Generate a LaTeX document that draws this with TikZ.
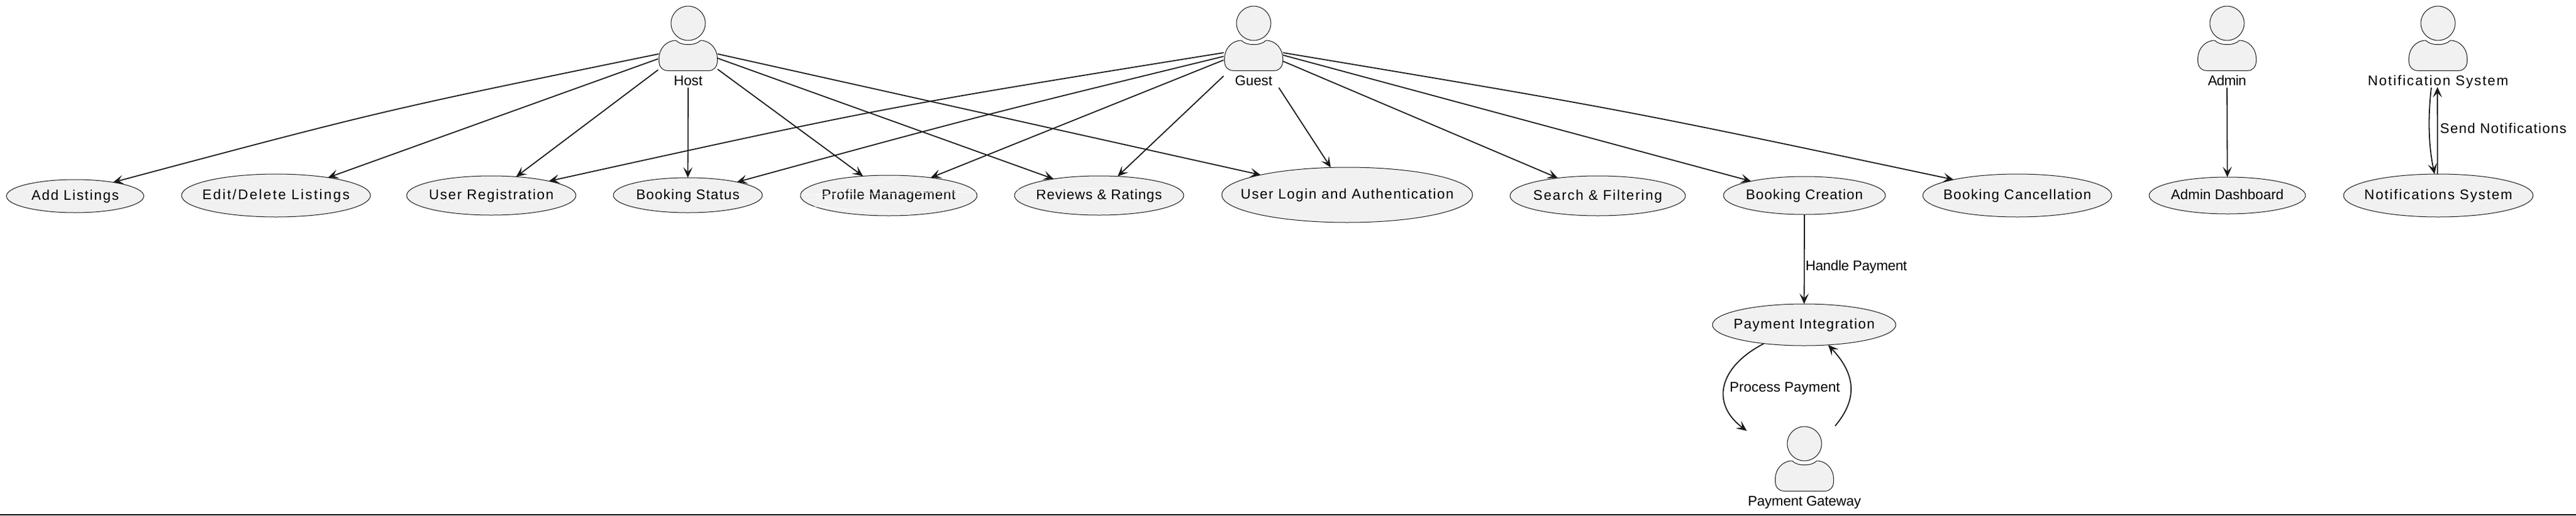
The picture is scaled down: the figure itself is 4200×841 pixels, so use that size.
\documentclass[tikz,border=0pt]{standalone}
\usepackage{fontspec}
\setmainfont{Liberation Sans}
\usetikzlibrary{arrows.meta,shapes.geometric}
\definecolor{ink}{HTML}{181818}
\definecolor{fillgrey}{HTML}{F1F1F1}
\ExplSyntaxOn
\cs_new_eq:NN \mystrcount \str_count:n
\ExplSyntaxOff
% text set to an exact width (px) by tracking; zero-width box so that it does not size the ellipse
\newcommand\fitw[2]{\makebox[0pt][c]{\setbox0=\hbox{#2}%
  \edef\lsval{\fpeval{round((((#1)*0.5pt-\the\wd0)/\mystrcount{#2})/11.4*100,3)}}%
  \edef\lscmd{\noexpand\addfontfeature{LetterSpace=\lsval}}\lscmd #2}}
\tikzset{
  txt/.style={font=\fontsize{11.4}{13}\selectfont,text=black},
  usecase/.style={ellipse,draw=ink,line width=0.5pt,fill=fillgrey,inner sep=0pt,outer sep=0pt,
    txt,text height=9pt,text depth=2.4pt,align=center},
  lbl/.style={txt,anchor=base,inner sep=0pt,outer sep=0pt},
  edge/.style={draw=ink,line width=0.9pt,-{Stealth[length=8.5pt,width=7.5pt,inset=3.8pt]}},
  figure/.style={draw=ink,line width=0.5pt,fill=fillgrey},
  actorbox/.style={rectangle,minimum width=48pt,minimum height=66.5pt,inner sep=0pt,outer sep=0pt},
  scratch/.style={draw=white,line width=0.35pt},
}
% \actorfig{name}{cx}{head-centre y}
\newcommand\actorfig[3]{%
  \begin{scope}[shift={(#2,#3)}]
    \draw[figure] (0,0) circle[radius=14pt];
    \draw[figure] (-20,28) .. controls (-12,37) and (12,37) .. (20,28)
      .. controls (36,28) and (47.5,42) .. (47.5,57) -- (47.5,63)
      .. controls (47.5,70) and (42,77.3) .. (34,77.3) -- (-33,77.3)
      .. controls (-42,77.3) and (-47.5,70) .. (-47.5,63) -- (-47.5,57)
      .. controls (-47.5,42) and (-36,28) .. cycle;
    \node[actorbox] (#1) at (0,57) {};
  \end{scope}}
\begin{document}
\begin{tikzpicture}[x=0.5pt,y=-0.5pt]
\useasboundingbox (0,0) rectangle (4200,841);
\fill[white] (0,0) rectangle (4200,841);
\draw[black,line width=1pt] (0,840) -- (4200,840);
% use cases
\node[usecase,minimum width=112pt,minimum height=27pt] (add) at (122.5,320) {\fitw{146}{Add Listings}};
\node[usecase,minimum width=154pt,minimum height=35pt] (edit) at (450,319) {\fitw{245}{Edit/Delete Listings}};
\node[usecase,minimum width=138pt,minimum height=32pt] (reg) at (801,319) {\fitw{207}{User Registration}};
\node[usecase,minimum width=121.5pt,minimum height=28.5pt] (status) at (1121.5,318.5) {\fitw{171}{Booking Status}};
\node[usecase,minimum width=144pt,minimum height=33pt] (profile) at (1449,319) {\fitw{220}{Profile Management}};
\node[usecase,minimum width=138pt,minimum height=32pt] (reviews) at (1792,319) {\fitw{209}{Reviews \& Ratings}};
\node[usecase,minimum width=204.5pt,minimum height=45pt] (login) at (2196.5,318) {\fitw{354}{User Login and Authentication}};
\node[usecase,minimum width=143pt,minimum height=32.5pt] (search) at (2605,319.5) {\fitw{218}{Search \& Filtering}};
\node[usecase,minimum width=132pt,minimum height=31pt] (create) at (2942,319) {\fitw{193}{Booking Creation}};
\node[usecase,minimum width=154pt,minimum height=35pt] (cancel) at (3289,319) {\fitw{244}{Booking Cancellation}};
\node[usecase,minimum width=127.5pt,minimum height=30pt] (dash) at (3631.5,319) {\fitw{184}{Admin Dashboard}};
\node[usecase,minimum width=154.5pt,minimum height=35pt] (notif) at (3975.5,319) {\fitw{245}{Notifications System}};
\node[usecase,minimum width=149.5pt,minimum height=34pt] (pay) at (2941.5,530) {\fitw{233}{Payment Integration}};
% faint white scratches on two use cases
\draw[scratch] (1315,328) -- (1467,287);
\draw[scratch] (1305,318) -- (1593,313);
\draw[scratch] (1327,337) -- (1483,350);
\draw[scratch] (1657,310) -- (1853,306);
% actors
\actorfig{host}{1122}{38}
\actorfig{guest}{2044}{38}
\actorfig{admin}{3631}{38}
\actorfig{notifier}{3975}{38}
\actorfig{gateway}{2942}{724}
\node[lbl] (hostl) at (1122,139) {\fitw{47}{Host}};
\node[lbl] (guestl) at (2044,139) {\fitw{61}{Guest}};
\node[lbl] (adminl) at (3631,139) {\fitw{62}{Admin}};
\node[lbl] (notifierl) at (3975,139) {\fitw{233}{Notification System}};
\node[lbl] (gatewayl) at (2942,825) {\fitw{184}{Payment Gateway}};
% host edges
\draw[edge] ([shift={(-48,-7)}]host.center) .. controls (625,180) .. (add.20.8);
\draw[edge] ([shift={(-49,1)}]host.center) -- (edit.19.7);
\draw[edge] ([shift={(-49,19)}]host.center) -- (reg.37.8);
\draw[edge] ([shift={(0,48)}]host.center) -- (status.90);
\draw[edge] ([shift={(48,18)}]host.center) -- (profile.143);
\draw[edge] ([shift={(48,0)}]host.center) -- (reviews.160);
\draw[edge] ([shift={(48,-7)}]host.center) -- (login.167.5);
% guest edges
\draw[edge] ([shift={(-49,-9)}]guest.center) .. controls (1437,176) .. (reg.14.5);
\draw[edge] ([shift={(-49,-3)}]guest.center) .. controls (1594,190) .. (status.15.4);
\draw[edge] ([shift={(-49,3)}]guest.center) -- (profile.23);
\draw[edge] ([shift={(-49,29)}]guest.center) -- (reviews.46);
\draw[edge] ([shift={(41,48)}]guest.center) -- (login.121.4);
\draw[edge] ([shift={(48,5)}]guest.center) -- (search.156);
\draw[edge] ([shift={(48,-5)}]guest.center) -- (create.165);
\draw[edge] ([shift={(48,-9)}]guest.center) .. controls (2642,178) .. (cancel.166.6);
% others
\draw[edge] ([shift={(0,48)}]admin.center) -- (dash.90);
\draw[edge] ([shift={(-11,48)}]notifier.center) .. controls (3958,195) and (3960,240) .. (notif.100.5);
\draw[edge] (notif.92.5) -- ([shift={(-1,47)}]notifier.center);
\node[lbl] (sendl) at (4081.5,217) {\fitw{209}{Send Notifications}};
\draw[edge] (create.south) -- (pay.north);
\node[lbl] (handlel) at (3026.5,441) {\fitw{165}{Handle Payment}};
\draw[edge] (pay.205) .. controls (2800,600) and (2790,660) .. ([shift={(-94,-78)}]gateway.center);
\draw[edge] ([shift={(50,-86)}]gateway.center) .. controls (3030,650) and (3025,610) .. (pay.-40);
\node[lbl] (processl) at (2910,639) {\fitw{180}{Process Payment}};
\end{tikzpicture}
\end{document}
